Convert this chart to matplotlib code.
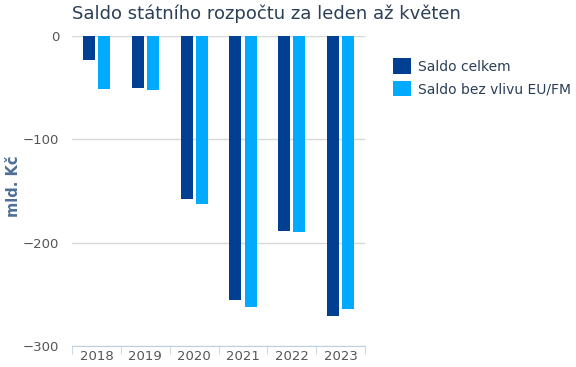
import numpy as np
import matplotlib.pyplot as plt
from matplotlib.patches import Patch

plt.rcParams['font.family'] = ['DejaVu Sans']

roky = ['2018', '2019', '2020', '2021', '2022', '2023']
saldo_celkem = [-23, -50, -158, -255, -189, -271]
saldo_bez_eu = [-51, -52, -163, -262, -190, -264]

c_tmava = '#013f93'
c_svetla = '#00aaff'

fig = plt.figure(figsize=(5.76, 3.67), dpi=100)
ax = fig.add_axes([0.125, 0.057, 0.509, 0.845])

x = np.arange(len(roky))
w = 0.245
ax.bar(x - 0.155, saldo_celkem, w, color=c_tmava, zorder=3)
ax.bar(x + 0.155, saldo_bez_eu, w, color=c_svetla, zorder=3)

ax.set_xlim(-0.5, len(roky) - 0.5)
ax.set_ylim(-300, 0)
ax.set_yticks([0, -100, -200, -300])
ax.set_yticklabels(['0', '\u2212100', '\u2212200', '\u2212300'])
ax.set_xticks(x)
ax.set_xticklabels(roky)
ax.set_xticks(np.arange(-0.5, len(roky)), minor=True)

ax.grid(axis='y', color='#d8d8d8', linewidth=1, zorder=0)
for s in ['top', 'right', 'left']:
    ax.spines[s].set_visible(False)
ax.spines['bottom'].set_color('#c0d0e0')
ax.tick_params(axis='y', length=0, pad=9, labelsize=9.5, labelcolor='#555555')
ax.tick_params(axis='x', which='major', length=0, pad=3, labelsize=9.5, labelcolor='#555555')
ax.tick_params(axis='x', which='minor', length=6, color='#c0d0e0')

# popisek osy y
fig.text(13 / 576, 1 - 186 / 367, 'mld. Kč', rotation=90, ha='center', va='center',
         fontsize=10.5, fontweight='bold', color='#4d6f96')

fig.text(0.462, 0.962, 'Saldo státního rozpočtu za leden až květen', ha='center', va='center',
         fontsize=13, color='#2b3f57')

handles = [Patch(facecolor=c_tmava, label='Saldo celkem'),
           Patch(facecolor=c_svetla, label='Saldo bez vlivu EU/FM')]
leg = fig.legend(handles=handles, loc='upper left', bbox_to_anchor=(0.66, 0.875), frameon=False,
                 fontsize=10, handlelength=1.3, handleheight=1.3, handletextpad=0.5, labelspacing=0.55)
for t in leg.get_texts():
    t.set_color('#2b3f57')

fig.savefig('out.png', dpi=100)
